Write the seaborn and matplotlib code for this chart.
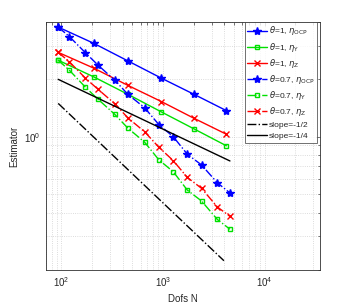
import numpy as np
import seaborn as sns
import matplotlib
matplotlib.use("Agg")
import matplotlib.pyplot as plt
from matplotlib.ticker import LogLocator, NullFormatter

# Dofs for theta=1 (uniform refinement) and theta=0.7 (adaptive)
dofs_uni = [93, 208, 450, 960, 2010, 4200]
dofs_ada = [93, 120, 172, 230, 335, 450, 657, 910, 1260, 1730, 2390, 3420, 4550]

ocp_uni = [3.76, 3.09, 2.50, 2.03, 1.67, 1.37]
y_uni = [2.52, 2.06, 1.67, 1.35, 1.10, 0.896]
z_uni = [2.77, 2.29, 1.86, 1.53, 1.25, 1.03]

ocp_ada = [3.76, 3.35, 2.76, 2.37, 1.98, 1.67, 1.42, 1.157, 1.00, 0.81, 0.711, 0.573, 0.507]
y_ada = [2.52, 2.23, 1.82, 1.57, 1.31, 1.11, 0.937, 0.756, 0.655, 0.525, 0.46, 0.368, 0.327]
z_ada = [2.77, 2.47, 2.03, 1.77, 1.49, 1.256, 1.063, 0.88, 0.749, 0.612, 0.536, 0.428, 0.382]

# reference slope lines (end points)
slope_half_x = [93, 3970]
slope_half_y = [1.495, 0.2235]
slope_quarter_x = [93, 4550]
slope_quarter_y = [2.00, 0.746]

labels = [r'$\theta$=1, $\eta_{\rm OCP}$', r'$\theta$=1, $\eta_{\rm Y}$', r'$\theta$=1, $\eta_{\rm Z}$',
          r'$\theta$=0.7, $\eta_{\rm OCP}$', r'$\theta$=0.7, $\eta_{\rm Y}$', r'$\theta$=0.7, $\eta_{\rm Z}$',
          'slope=-1/2', 'slope=-1/4']


def main():
  sns.set_style("white")
  plt.rcParams['font.family'] = ['Liberation Sans', 'DejaVu Sans']
  plt.rcParams['mathtext.fontset'] = 'dejavusans'

  fig = plt.figure(figsize=(3.54, 3.05), dpi=100)
  ax = fig.add_axes([0.129, 0.115, 0.775, 0.813])

  series = [
    (dofs_uni, ocp_uni, 'blue', '*', '-', 6),
    (dofs_uni, y_uni, '#00e000', 's', '-', 3.5),
    (dofs_uni, z_uni, 'red', 'x', '-', 4.5),
    (dofs_ada, ocp_ada, 'blue', '*', '-.', 6),
    (dofs_ada, y_ada, '#00e000', 's', '-.', 3.5),
    (dofs_ada, z_ada, 'red', 'x', '-.', 4.5),
  ]
  for (xs, ys, c, m, ls, ms), lab in zip(series, labels):
    sns.lineplot(x=xs, y=ys, ax=ax, color=c, marker=m, linestyle=ls, markersize=ms,
                 mfc='none' if m == 's' else c, mec=c, mew=1.0, lw=1.0,
                 label=lab, sort=False, estimator=None)

  sns.lineplot(x=slope_half_x, y=slope_half_y, ax=ax, color='black', linestyle='-.', lw=1.0,
               label=labels[6], sort=False, estimator=None)
  sns.lineplot(x=slope_quarter_x, y=slope_quarter_y, ax=ax, color='black', linestyle='-', lw=1.0,
               label=labels[7], sort=False, estimator=None)

  ax.set_xscale('log')
  ax.set_yscale('log')
  ax.set_xlim(70, 35000)
  ax.set_ylim(0.2, 4)

  ax.xaxis.set_major_locator(LogLocator(base=10, numticks=10))
  ax.xaxis.set_minor_locator(LogLocator(base=10, subs=np.arange(2, 10), numticks=20))
  ax.yaxis.set_major_locator(LogLocator(base=10, numticks=10))
  ax.yaxis.set_minor_locator(LogLocator(base=10, subs=np.arange(2, 10), numticks=20))
  ax.xaxis.set_minor_formatter(NullFormatter())
  ax.yaxis.set_minor_formatter(NullFormatter())

  ax.grid(True, which='both', linestyle=':', color='#d0d0d0', lw=0.6)
  ax.tick_params(which='both', direction='in', top=True, right=True, labelsize=7,
                 color='#404040', width=0.5)
  ax.tick_params(which='major', length=3)
  ax.tick_params(which='minor', length=1.8)
  for s in ax.spines.values():
    s.set_color('#303030')
    s.set_linewidth(0.6)

  ax.set_xlabel('Dofs N', fontsize=7)
  ax.set_ylabel('Estimator', fontsize=7)

  leg = ax.legend(loc='upper left', bbox_to_anchor=(0.692, 0.928), bbox_transform=fig.transFigure,
                  fontsize=6, frameon=True, fancybox=False, handlelength=2.3, handletextpad=0.3,
                  borderpad=0.3, labelspacing=0.38, borderaxespad=0)
  leg.get_frame().set_edgecolor('#303030')
  leg.get_frame().set_linewidth(0.6)

  fig.savefig('out.png', dpi=100)


if __name__ == "__main__":
  main()
